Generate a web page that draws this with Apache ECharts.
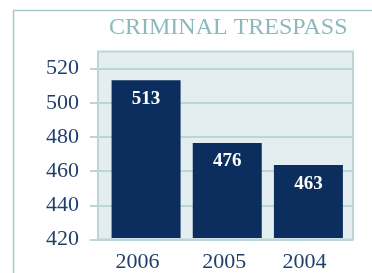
<!DOCTYPE html>
<html>
<head>
<meta charset="utf-8">
<script src="https://cdn.jsdelivr.net/npm/echarts@6/dist/echarts.min.js"></script>
<style>
html, body { margin: 0; padding: 0; background: #fff; }
#chart { width: 372px; height: 273px; }
</style>
</head>
<body>
<div id="chart"></div>
<script>
// data
var years = ['2006', '2005', '2004'];
var counts = [513, 476, 463];
var yTicks = [420, 440, 460, 480, 500, 520];

var lineColor = '#b9d6d9';
var serif = '"Liberation Serif", "DejaVu Serif", serif';
// the year labels sit a little left of the bars
var yearShift = { '2006': 17, '2005': 6, '2004': 8 };

var myChart = echarts.init(document.getElementById('chart'));
var option = {
	animation: false,
	title: {
		text: 'CRIMINAL TRESPASS',
		left: 104,
		top: 11,
		textStyle: { fontFamily: serif, fontSize: 24, fontWeight: 'normal', color: '#8bb9bd' }
	},
	graphic: [
		// outer frame lines
		{ type: 'line', shape: { x1: 13.5, y1: 10.5, x2: 372, y2: 10.5 }, style: { stroke: '#a3c9cd', lineWidth: 1.5 } },
		{ type: 'line', shape: { x1: 13.5, y1: 10.5, x2: 13.5, y2: 273 }, style: { stroke: '#a3c9cd', lineWidth: 1.5 } }
	],
	grid: [
		// background panel with y scale
		{ left: 98, top: 51.5, right: 19, bottom: 33.5, show: true, backgroundColor: '#e4edef', borderColor: lineColor, borderWidth: 2 },
		// bars
		{ left: 105.5, top: 51.5, right: 23, bottom: 33.5 }
	],
	xAxis: [
		{ gridIndex: 0, type: 'value', show: false },
		{
			gridIndex: 1,
			type: 'category',
			data: years,
			axisLine: { show: false },
			axisTick: { show: false },
			axisLabel: {
				interval: 0,
				hideOverlap: false,
				fontFamily: serif,
				fontSize: 22,
				color: '#213f6b',
				margin: 13,
				formatter: function(v) {
					return '{s' + v + '|' + v + '}';
				},
				rich: {
					s2006: { fontFamily: serif, fontSize: 22, color: '#213f6b', padding: [0, yearShift['2006'], 0, 0] },
					s2005: { fontFamily: serif, fontSize: 22, color: '#213f6b', padding: [0, yearShift['2005'], 0, 0] },
					s2004: { fontFamily: serif, fontSize: 22, color: '#213f6b', padding: [0, yearShift['2004'], 0, 0] }
				}
			}
		}
	],
	yAxis: [
		{
			gridIndex: 0,
			type: 'value',
			min: 420,
			max: 530,
			interval: 20,
			axisLine: { show: false },
			axisTick: { show: true, length: 8, customValues: yTicks, lineStyle: { color: lineColor, width: 2 } },
			axisLabel: { fontFamily: serif, fontSize: 22, color: '#213f6b', margin: 19, customValues: yTicks },
			splitLine: { show: true, lineStyle: { color: lineColor, width: 2 } }
		},
		{ gridIndex: 1, type: 'value', min: 420, max: 530, show: false }
	],
	series: [{
		type: 'bar',
		xAxisIndex: 1,
		yAxisIndex: 1,
		barWidth: 69,
		data: counts,
		itemStyle: { color: '#0b2e5e' },
		label: {
			show: true,
			position: 'insideTop',
			distance: 9,
			fontFamily: serif,
			fontSize: 19,
			fontWeight: 'bold',
			color: '#ffffff'
		}
	}]
};
myChart.setOption(option);
</script>
</body>
</html>
